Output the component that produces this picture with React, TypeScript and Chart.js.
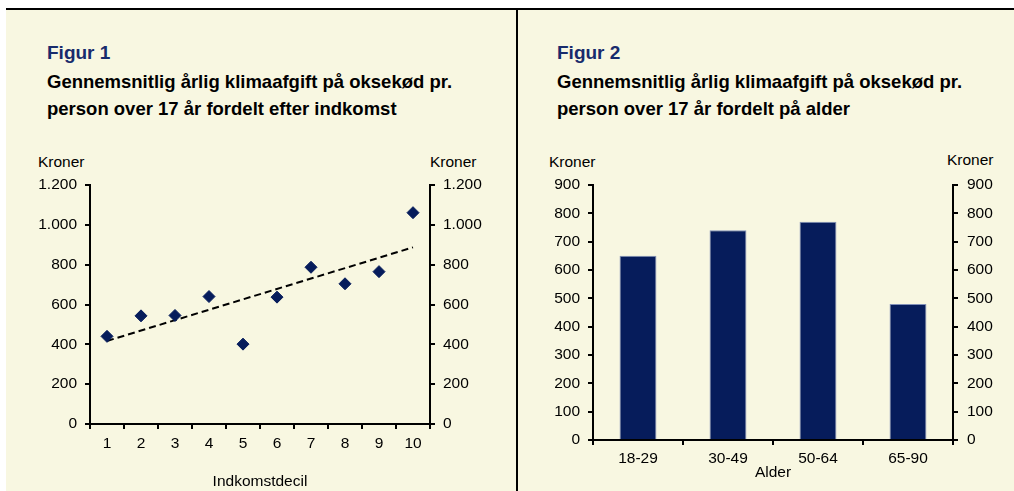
import React, { useEffect, useRef } from "react";
import { Chart, registerables } from "chart.js";

Chart.register(...registerables);

// ---------- Data ----------
const decilLabels = ["1", "2", "3", "4", "5", "6", "7", "8", "9", "10"];
const decilValues = [440, 543, 545, 640, 401, 637, 787, 704, 765, 1061];
// Linear trend line endpoints (decil 1 and decil 10) as drawn in the figure
const trendEnds = [417, 887];
const incomeTicks = [0, 200, 400, 600, 800, 1000, 1200];

const ageLabels = ["18-29", "30-49", "50-64", "65-90"];
const ageValues = [650, 740, 770, 480];
const ageTicks = [0, 100, 200, 300, 400, 500, 600, 700, 800, 900];

// ---------- Style ----------
const FONT = "'Liberation Sans', Arial, Helvetica, sans-serif";
const CREAM = "#F8F7E1";
const NAVY = "#061C5B";
const TITLE_BLUE = "#182B6C";

Chart.defaults.font.family = FONT;
Chart.defaults.color = "#000";

const fmt = (v: number) => String(v).replace(/\B(?=(\d{3})+(?!\d))/g, ".");

function yAxis(position: "left" | "right", ticks: number[], width: number, pad: number) {
  return {
    type: "linear" as const,
    position,
    min: ticks[0],
    max: ticks[ticks.length - 1],
    afterFit: (s: any) => {
      s.width = width;
    },
    afterBuildTicks: (s: any) => {
      s.ticks = ticks.map((v) => ({ value: v }));
    },
    ticks: {
      color: "#000",
      font: { size: 15.5, family: FONT },
      padding: pad,
      callback: (v: any) => fmt(Number(v)),
    },
    grid: {
      drawOnChartArea: false,
      drawTicks: true,
      tickLength: 5,
      color: "#000",
      lineWidth: 2,
    },
    border: { display: true, color: "#000", width: 2 },
  };
}

function xAxis(height: number, pad: number, title: string) {
  return {
    type: "category" as const,
    offset: true,
    afterFit: (s: any) => {
      s.height = height;
    },
    ticks: {
      color: "#000",
      font: { size: 15.5, family: FONT },
      padding: pad,
      maxRotation: 0,
      autoSkip: false,
    },
    grid: {
      offset: true,
      drawOnChartArea: false,
      drawTicks: true,
      tickLength: 5,
      color: "#000",
      lineWidth: 2,
    },
    border: { display: true, color: "#000", width: 2 },
    title: {
      display: true,
      text: title,
      color: "#000",
      font: { size: 15.5, family: FONT },
      padding: { top: 0, bottom: 0 },
    },
  };
}

function IncomeChart() {
  const ref = useRef<HTMLCanvasElement>(null);
  useEffect(() => {
    if (!ref.current) return;
    const trendData = decilLabels.map((_, i) =>
      i === 0 ? trendEnds[0] : i === decilLabels.length - 1 ? trendEnds[1] : null
    );
    const chart = new Chart(ref.current, {
      type: "line",
      data: {
        labels: decilLabels,
        datasets: [
          {
            data: trendData,
            borderColor: "#000",
            borderWidth: 2,
            borderDash: [7, 4],
            pointRadius: 0,
            spanGaps: true,
            fill: false,
            yAxisID: "y",
            order: 2,
          },
          {
            data: decilValues,
            showLine: false,
            pointStyle: "rectRot",
            pointRadius: 6,
            pointBackgroundColor: NAVY,
            pointBorderColor: NAVY,
            pointBorderWidth: 1,
            yAxisID: "y",
            order: 1,
          },
        ],
      },
      options: {
        animation: false,
        responsive: false,
        maintainAspectRatio: false,
        events: [],
        layout: { padding: { left: 24, right: 26, top: 45, bottom: 0 } },
        plugins: { legend: { display: false }, tooltip: { enabled: false }, title: { display: false } },
        scales: {
          x: xAxis(67, 5, "Indkomstdecil") as any,
          y: yAxis("left", incomeTicks, 60, 8) as any,
          y2: yAxis("right", incomeTicks, 60, 8) as any,
        },
      },
    });
    return () => chart.destroy();
  }, []);
  return <canvas ref={ref} width={510} height={351} style={{ position: "absolute", left: 6, top: 140, width: 510, height: 351 }} />;
}

function AgeChart() {
  const ref = useRef<HTMLCanvasElement>(null);
  useEffect(() => {
    if (!ref.current) return;
    const chart = new Chart(ref.current, {
      type: "bar",
      data: {
        labels: ageLabels,
        datasets: [
          {
            data: ageValues,
            backgroundColor: NAVY,
            borderColor: "#8190B8",
            borderWidth: { top: 1, left: 1, right: 1, bottom: 0 },
            barPercentage: 0.41,
            categoryPercentage: 1,
            yAxisID: "y",
          },
        ],
      },
      options: {
        animation: false,
        responsive: false,
        maintainAspectRatio: false,
        events: [],
        layout: { padding: { left: 15, right: 1, top: 45, bottom: 9 } },
        plugins: { legend: { display: false }, tooltip: { enabled: false }, title: { display: false } },
        scales: {
          x: xAxis(42, 4, "Alder") as any,
          y: yAxis("left", ageTicks, 60, 8) as any,
          y2: yAxis("right", ageTicks, 60, 9) as any,
        },
      },
    });
    return () => chart.destroy();
  }, []);
  return <canvas ref={ref} width={496} height={351} style={{ position: "absolute", left: 518, top: 140, width: 496, height: 351 }} />;
}

const figStyle: React.CSSProperties = {
  position: "absolute",
  fontFamily: FONT,
  fontWeight: "bold",
  fontSize: 19,
  lineHeight: "22px",
  color: TITLE_BLUE,
  whiteSpace: "nowrap",
};
const subStyle: React.CSSProperties = {
  position: "absolute",
  fontFamily: FONT,
  fontWeight: "bold",
  fontSize: 18.5,
  lineHeight: "27px",
  color: "#000",
  whiteSpace: "nowrap",
};
const unitStyle: React.CSSProperties = {
  position: "absolute",
  fontFamily: FONT,
  fontSize: 15.5,
  lineHeight: "18px",
  color: "#000",
  whiteSpace: "nowrap",
};

export default function App() {
  return (
    <div style={{ position: "fixed", left: 0, top: 0, width: 1014, height: 491, background: "#fff", overflow: "hidden" }}>
      <div style={{ position: "absolute", left: 6, top: 10, width: 1008, height: 481, background: CREAM }} />
      <div style={{ position: "absolute", left: 6, top: 8, width: 1008, height: 2, background: "#000" }} />
      <div style={{ position: "absolute", left: 516, top: 8, width: 2, height: 483, background: "#000" }} />

      <div style={{ ...figStyle, left: 47, top: 42 }}>Figur 1</div>
      <div style={{ ...subStyle, left: 47, top: 68 }}>
        Gennemsnitlig årlig klimaafgift på oksekød pr.
        <br />
        person over 17 år fordelt efter indkomst
      </div>
      <div style={{ ...figStyle, left: 557, top: 42 }}>Figur 2</div>
      <div style={{ ...subStyle, left: 557, top: 68 }}>
        Gennemsnitlig årlig klimaafgift på oksekød pr.
        <br />
        person over 17 år fordelt på alder
      </div>

      <div style={{ ...unitStyle, left: 38, top: 153 }}>Kroner</div>
      <div style={{ ...unitStyle, left: 430, top: 153 }}>Kroner</div>
      <div style={{ ...unitStyle, left: 549, top: 153 }}>Kroner</div>
      <div style={{ ...unitStyle, left: 947, top: 151 }}>Kroner</div>

      <IncomeChart />
      <AgeChart />
    </div>
  );
}
